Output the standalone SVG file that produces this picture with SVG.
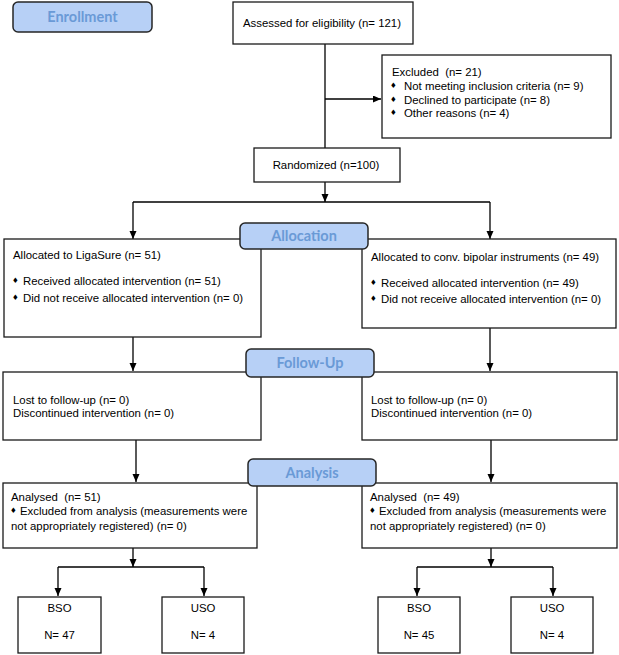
<svg xmlns="http://www.w3.org/2000/svg" width="619" height="655" viewBox="0 0 619 655">
<style>
.box{fill:#fff;stroke:#1a1a1a;stroke-width:1.3}
.lab{fill:#b7d0f6;stroke:#262626;stroke-width:1.5}
.lt{font-family:Lato,"Open Sans",sans-serif;font-weight:bold;font-size:14.5px;fill:#6a9ad6;text-anchor:middle}
.t{font-family:"Liberation Sans",Arial,sans-serif;font-size:11.4px;fill:#000;white-space:pre}
.c{text-anchor:middle}
.b{font-family:"DejaVu Sans",sans-serif;font-size:7.5px;fill:#000}
.ln{fill:none;stroke:#000;stroke-width:1.3}
</style>
<defs>
<marker id="ah" markerUnits="userSpaceOnUse" markerWidth="9" markerHeight="8" refX="8" refY="3.5" orient="auto">
<path d="M0,0 L8,3.5 L0,7 z" fill="#000"/>
</marker>
</defs>
<rect width="619" height="655" fill="#fff"/>
<g id="connectors">
<path class="ln" d="M325,44 V148"/>
<path class="ln" d="M325,99 H381" marker-end="url(#ah)"/>
<path class="ln" d="M325,182 V202" marker-end="url(#ah)"/>
<path class="ln" d="M133,202 H490"/>
<path class="ln" d="M133,202 V239" marker-end="url(#ah)"/>
<path class="ln" d="M490,202 V239" marker-end="url(#ah)"/>
<path class="ln" d="M133,337 V371" marker-end="url(#ah)"/>
<path class="ln" d="M490,328 V371" marker-end="url(#ah)"/>
<path class="ln" d="M136,440 V482" marker-end="url(#ah)"/>
<path class="ln" d="M491,440 V482" marker-end="url(#ah)"/>
<path class="ln" d="M133,548 V567" marker-end="url(#ah)"/>
<path class="ln" d="M58,567 H204"/>
<path class="ln" d="M58,567 V596" marker-end="url(#ah)"/>
<path class="ln" d="M204,567 V596" marker-end="url(#ah)"/>
<path class="ln" d="M491,548 V567" marker-end="url(#ah)"/>
<path class="ln" d="M417,567 H553"/>
<path class="ln" d="M417,567 V596" marker-end="url(#ah)"/>
<path class="ln" d="M553,567 V596" marker-end="url(#ah)"/>
</g>
<g id="assessed">
<rect class="box" x="233" y="2" width="180" height="42"/>
<text class="t" x="243" y="27">Assessed for eligibility (n= 121)</text>
</g>
<g id="excluded">
<rect class="box" x="382" y="55" width="229" height="83"/>
<text class="t" x="392" y="76">Excluded  (n= 21)</text>
<text class="b" x="390" y="88">♦</text><text class="t" x="404" y="90">Not meeting inclusion criteria (n= 9)</text>
<text class="b" x="390" y="102">♦</text><text class="t" x="404" y="104">Declined to participate (n= 8)</text>
<text class="b" x="390" y="115">♦</text><text class="t" x="404" y="117">Other reasons (n= 4)</text>
</g>
<g id="randomized">
<rect class="box" x="254" y="148" width="146" height="34"/>
<text class="t c" x="326" y="169">Randomized (n=100)</text>
</g>
<g id="alloc-left">
<rect class="box" x="4" y="239" width="257" height="98"/>
<text class="t" x="13" y="259">Allocated to LigaSure (n= 51)</text>
<text class="b" x="12" y="283">♦</text><text class="t" x="23" y="285">Received allocated intervention (n= 51)</text>
<text class="b" x="12" y="300">♦</text><text class="t" x="23" y="302">Did not receive allocated intervention (n= 0)</text>
</g>
<g id="alloc-right">
<rect class="box" x="362" y="239" width="254" height="89"/>
<text class="t" x="371" y="261">Allocated to conv. bipolar instruments (n= 49)</text>
<text class="b" x="370" y="285">♦</text><text class="t" x="381" y="287">Received allocated intervention (n= 49)</text>
<text class="b" x="370" y="301">♦</text><text class="t" x="381" y="303">Did not receive allocated intervention (n= 0)</text>
</g>
<g id="followup-left">
<rect class="box" x="3" y="372" width="258" height="68"/>
<text class="t" x="13" y="404">Lost to follow-up (n= 0)</text>
<text class="t" x="13" y="417">Discontinued intervention (n= 0)</text>
</g>
<g id="followup-right">
<rect class="box" x="362" y="372" width="255" height="68"/>
<text class="t" x="371" y="404">Lost to follow-up (n= 0)</text>
<text class="t" x="371" y="417">Discontinued intervention (n= 0)</text>
</g>
<g id="analysis-left">
<rect class="box" x="3" y="483" width="254" height="65"/>
<text class="t" x="11" y="501">Analysed  (n= 51)</text>
<text class="b" x="10" y="513">♦</text><text class="t" x="20" y="515">Excluded from analysis (measurements were</text>
<text class="t" x="11" y="530">not appropriately registered) (n= 0)</text>
</g>
<g id="analysis-right">
<rect class="box" x="362" y="483" width="255" height="65"/>
<text class="t" x="370" y="501">Analysed  (n= 49)</text>
<text class="b" x="369" y="513">♦</text><text class="t" x="379" y="515">Excluded from analysis (measurements were</text>
<text class="t" x="370" y="530">not appropriately registered) (n= 0)</text>
</g>
<g id="bso-left">
<rect class="box" x="18" y="597" width="83" height="56"/>
<text class="t c" x="59.5" y="612">BSO</text>
<text class="t c" x="59.5" y="639">N= 47</text>
</g>
<g id="uso-left">
<rect class="box" x="162" y="597" width="82" height="56"/>
<text class="t c" x="203" y="612">USO</text>
<text class="t c" x="203" y="639">N= 4</text>
</g>
<g id="bso-right">
<rect class="box" x="378" y="597" width="82" height="56"/>
<text class="t c" x="419" y="612">BSO</text>
<text class="t c" x="419" y="639">N= 45</text>
</g>
<g id="uso-right">
<rect class="box" x="511" y="597" width="82" height="56"/>
<text class="t c" x="552" y="612">USO</text>
<text class="t c" x="552" y="639">N= 4</text>
</g>
<g id="label-enrollment">
<rect class="lab" x="13" y="2" width="139" height="30" rx="5"/>
<text class="lt" x="82.5" y="22">Enrollment</text>
</g>
<g id="label-allocation">
<rect class="lab" x="240" y="223" width="128" height="26" rx="5"/>
<text class="lt" x="304" y="241">Allocation</text>
</g>
<g id="label-followup">
<rect class="lab" x="246" y="349" width="128" height="28" rx="5"/>
<text class="lt" x="310" y="368">Follow-Up</text>
</g>
<g id="label-analysis">
<rect class="lab" x="248" y="459" width="128" height="27" rx="5"/>
<text class="lt" x="312" y="478">Analysis</text>
</g>
</svg>
